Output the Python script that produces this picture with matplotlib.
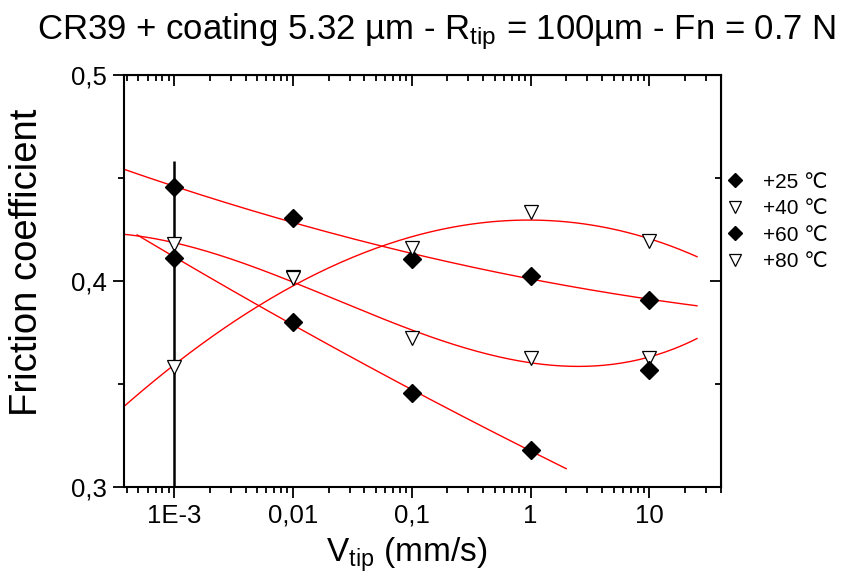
import numpy as np
import matplotlib
matplotlib.use("Agg")
import matplotlib.pyplot as plt
from matplotlib.ticker import LogLocator, NullFormatter

plt.rcParams['font.family'] = ['Liberation Sans', 'DejaVu Sans']
plt.rcParams['mathtext.fontset'] = 'custom'
plt.rcParams['mathtext.rm'] = 'Liberation Sans'
plt.rcParams['mathtext.it'] = 'Liberation Sans'

# sliding speed (mm/s)
speed = [1e-3, 1e-2, 1e-1, 1, 10]

# friction coefficient per temperature
mu_25 = [0.4455, 0.4304, 0.4107, 0.4026, 0.3908]
mu_40 = [0.4180, 0.4020, 0.3725, 0.3628, 0.3625]
mu_60 = [0.4113, 0.3802, 0.3458, 0.3180, 0.3568]
mu_80 = [0.3583, 0.4013, 0.4159, 0.4333, 0.4196]
err_80 = [0.100, 0, 0, 0, 0]

labels = ["+25 \u2103", "+40 \u2103", "+60 \u2103", "+80 \u2103"]

xticks = [1e-3, 1e-2, 1e-1, 1, 10]
xticklabels = ["1E-3", "0,01", "0,1", "1", "10"]
yticks = [0.3, 0.4, 0.5]
yticklabels = ["0,3", "0,4", "0,5"]


def fit_curve(x, y, deg, lo, hi, npts=200):
    lx = np.log10(x)
    p = np.polyfit(lx, y, deg)
    xs = np.linspace(lo, hi, npts)
    return 10 ** xs, np.polyval(p, xs)


fig = plt.figure(figsize=(8.42, 5.81), dpi=100)
ax = fig.add_axes([0.1473, 0.1618, 0.7090, 0.7091])

# fitted curves (polynomial in log10 of speed)
fx, fy = fit_curve(speed, mu_25, 2, -3.45, 1.4)
ax.plot(fx, fy, color="red", lw=1)
fx, fy = fit_curve(speed, mu_40, 3, -3.45, 1.4)
ax.plot(fx, fy, color="red", lw=1)
fx, fy = fit_curve(speed[:4], mu_60[:4], 2, -3.31, 0.3)
ax.plot(fx, fy, color="red", lw=1)
fx, fy = fit_curve(speed, mu_80, 3, -3.45, 1.4)
ax.plot(fx, fy, color="red", lw=1)

# data points
ax.errorbar(speed, mu_80, yerr=err_80, fmt="none", ecolor="black",
            elinewidth=1.8, capsize=0)
h25, = ax.plot(speed, mu_25, "D", color="black", ms=9, ls="none")
h40, = ax.plot(speed, mu_40, "v", mfc="white", mec="black", mew=0.9, ms=10, ls="none")
h60, = ax.plot(speed, mu_60, "D", color="black", ms=9, ls="none")
h80, = ax.plot(speed, mu_80, "v", mfc="white", mec="black", mew=0.9, ms=10, ls="none")

ax.set_xscale("log")
ax.set_xlim(3.8e-4, 40)
ax.set_ylim(0.3, 0.5)

ax.set_xticks(xticks)
ax.set_xticklabels(xticklabels)
ax.xaxis.set_minor_locator(LogLocator(base=10, subs=np.arange(2, 10)))
ax.xaxis.set_minor_formatter(NullFormatter())
ax.set_yticks(yticks)
ax.set_yticklabels(yticklabels)
ax.set_yticks([0.35, 0.45], minor=True)

for s in ax.spines.values():
    s.set_linewidth(1.5)

ax.tick_params(which="both", direction="out", width=1.3, labelsize=18.5,
               top=False, right=False)
ax.tick_params(which="major", length=8, pad=4)
ax.tick_params(which="minor", length=4)

# mirrored axes with inward ticks
ax_top = ax.secondary_xaxis("top")
ax_top.set_xticks(xticks)
ax_top.xaxis.set_minor_locator(LogLocator(base=10, subs=np.arange(2, 10)))
ax_top.tick_params(which="both", direction="in", width=1.3, labeltop=False)
ax_top.tick_params(which="major", length=8)
ax_top.tick_params(which="minor", length=4)
ax_top.xaxis.set_minor_formatter(NullFormatter())
ax_top.set_xticklabels([])
ax_right = ax.secondary_yaxis("right")
ax_right.set_yticks(yticks)
ax_right.set_yticks([0.35, 0.45], minor=True)
ax_right.tick_params(which="both", direction="in", width=1.3, labelright=False)
ax_right.tick_params(which="major", length=8)
ax_right.tick_params(which="minor", length=4)
ax_right.set_yticklabels([])

ax.set_xlabel(r"V$_{\mathregular{tip}}$ (mm/s)", fontsize=24, va="center")
ax.xaxis.set_label_coords(0.474, -0.165)
ax.set_ylabel("Friction coefficient", fontsize=27.5, va="center")
ax.yaxis.set_label_coords(-0.163, 0.546)
fig.text(0.518, 0.945,
         r"CR39 + coating 5.32 µm - R$_{\mathregular{tip}}$ = 100µm - Fn = 0.7 N",
         fontsize=25, ha="center", va="center")

fig.legend([h25, h40, h60, h80], labels, loc="upper left",
           bbox_to_anchor=(0.8606, 0.703), frameon=False, fontsize=15,
           handlelength=1.0, handletextpad=0.85, labelspacing=0.36,
           borderpad=0, borderaxespad=0, markerscale=0.8)

fig.savefig("out.png", dpi=100)
